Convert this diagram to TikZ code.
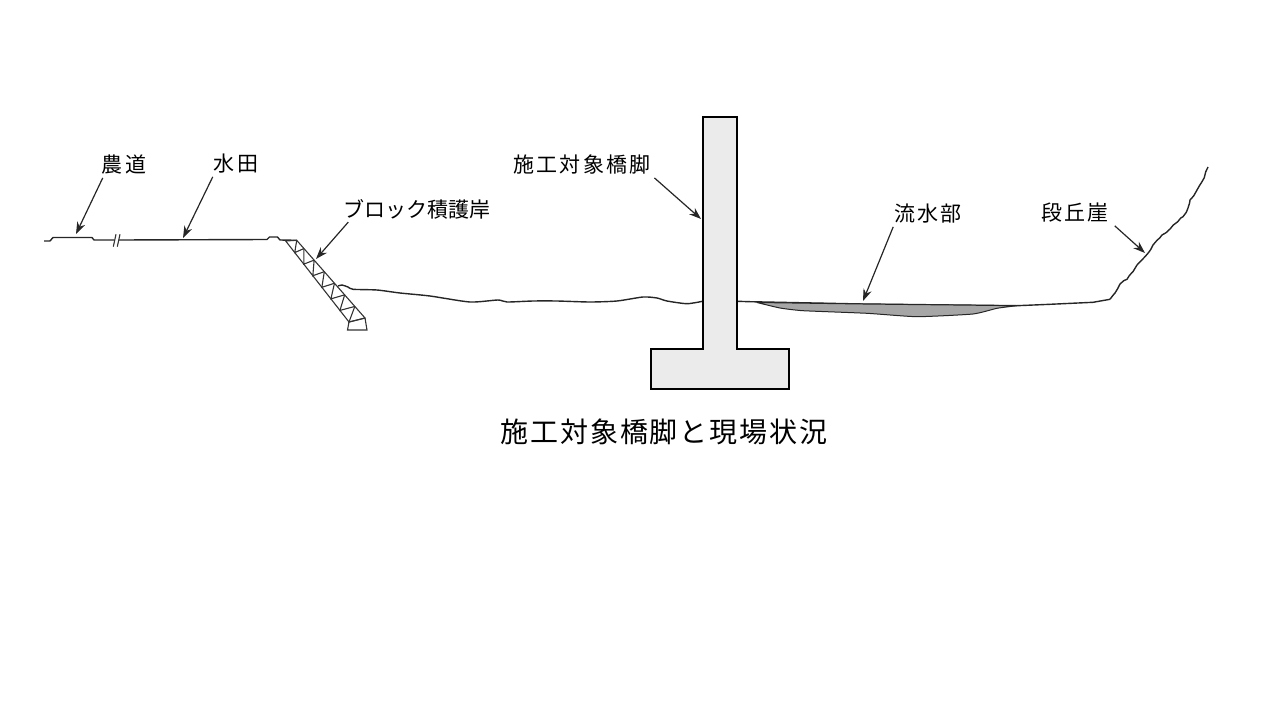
\documentclass[tikz,border=0pt]{standalone}
\usepackage{fontspec}
\setmainfont{Noto Sans CJK JP}
\usetikzlibrary{arrows.meta,calc,decorations.pathmorphing}

\begin{document}
\begin{tikzpicture}[x=1pt, y=-1pt]
    \tikzset{
        mylabel/.style={
            inner xsep=1pt,
            inner ysep=3pt,
            font={\fontsize{21pt}{24pt}\selectfont\addfontfeature{LetterSpace=10}},
        },
        myleader/.style={
            -{Stealth[length=12pt, width=8.5pt]},
            line width=1.2pt,
            color=black!85,
        },
        myground/.style={
            line width=1.4pt,
            color=black!85,
            line join=round,
        },
        myrough/.style={
            decorate,
            decoration={random steps, segment length=5pt, amplitude=.7pt},
        },
        myrail/.style={
            line width=1.1pt,
            color=black!80,
        },
    }
    \useasboundingbox (0,0) rectangle (1280,720);

    % Ground
    \draw[myground] (44,241) -- (50,241) -- (53,237.5) -- (92,237.5) -- (94,240) -- (114.5,240);
    \draw[myground] (118.5,240) -- (267,239.5) -- (269.5,237) -- (277.5,237) -- (280,240) -- (297,240.3);
    \draw[myrail] (113.3,246.7) -- (116,234.3);
    \draw[myrail] (117.3,246.7) -- (120,234.3);
    \draw[myground] plot[smooth, tension=.4] coordinates {
        (338,286) (342,285) (348,287) (353,289.3) (377,290) (400,293) (430,296) (470,302)
        (498,300) (507,302) (533,301) (557,301) (590,302) (617,301) (643,297) (657,298)
        (667,301) (687,303.7) (702.5,301.3)};
    \draw[myground] (737.5,301.3) -- (750,301.7) -- (863,304) -- (1017,305.7) -- (1050,304.3)
        -- (1093,302.3) -- (1110,299.3);
    \draw[myground, myrough] (1110,299.3) -- (1115,293) -- (1120,284) -- (1127,279.3) -- (1137,265)
        -- (1145,256.7) -- (1153,245) -- (1162,235) -- (1170,229) -- (1183,216.7) -- (1188,208)
        -- (1190,200) -- (1197,190) -- (1202,181.7) -- (1208,167);

    % Water
    \draw[myground, fill=black!35, line width=1pt] plot[smooth, tension=.3] coordinates {
        (757,302.5) (780,308) (803,310.7) (867,313.3) (917,316.7) (973,314) (997,308.3) (1017,305.7)}
        -- (863,304) -- cycle;

    % Revetment
    \coordinate (railLa) at (285.7,241);
    \coordinate (railLb) at (349,322);
    \coordinate (railRa) at (296.7,240.3);
    \coordinate (railRb) at (365,318);
    \draw[myrail] (railLa) -- (railRa) -- (railRb) -- (railLb) -- cycle;
    \foreach \i in {1,...,7} {
        \pgfmathsetmacro{\t}{\i/7}
        \pgfmathsetmacro{\u}{(\i-0.3*(7-\i)/7)/7}
        \pgfmathsetmacro{\v}{max(0,(\i-1-0.3*(8-\i)/7)/7)}
        \draw[myrail] ($(railRa)!\v!(railRb)$) -- ($(railLa)!\t!(railLb)$) -- ($(railRa)!\u!(railRb)$);
    }
    \draw[myrail] (railLb) -- (347.5,330) -- (367,330) -- (railRb);

    % Pier
    \draw[line width=2pt, fill=black!8] (702.7,116.7) -- (737.3,116.7) -- (737.3,349) -- (789,349)
        -- (789,388.7) -- (650.7,388.7) -- (650.7,349) -- (702.7,349) -- cycle;

    % Labels
    \node[mylabel] (road)  at (124,165) {農道};
    \node[mylabel] (paddy) at (236,164) {水田};
    \node[mylabel, font={\fontsize{21pt}{24pt}\selectfont}] (block) at (417,209) {ブロック積護岸};
    \node[mylabel] (pier)  at (582,165) {施工対象橋脚};
    \node[mylabel] (water) at (928,214) {流水部};
    \node[mylabel] (cliff) at (1075,213) {段丘崖};
    \node[font={\fontsize{28pt}{32pt}\selectfont\addfontfeature{LetterSpace=7}}] (caption) at (664,432) {施工対象橋脚と現場状況};

    % Leaders
    \coordinate (roadtip)  at (76,234);
    \coordinate (paddytip) at (183,238);
    \coordinate (blocktip) at (316,259);
    \coordinate (piertip)  at (701,219);
    \coordinate (watertip) at (863,301);
    \coordinate (clifftip) at (1145,253);
    \draw[myleader] ([xshift=2pt]road.south west)  -- (roadtip);
    \draw[myleader] (paddy.south west) -- (paddytip);
    \draw[myleader] ([xshift=6pt]block.south west) -- (blocktip);
    \draw[myleader] ([xshift=3pt]pier.south east)  -- (piertip);
    \draw[myleader] (water.south west) -- (watertip);
    \draw[myleader] ([xshift=5pt]cliff.south east) -- (clifftip);
\end{tikzpicture}
\end{document}
